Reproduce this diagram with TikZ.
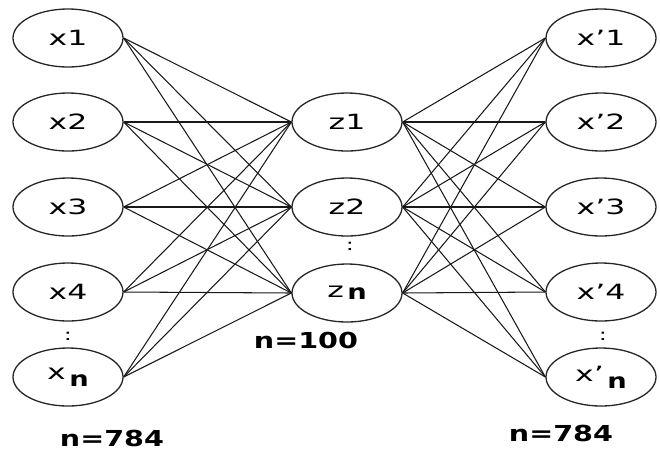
\documentclass[tikz,border=0pt]{standalone}
\usepackage{fontspec}
\setmainfont{DejaVu Sans}
\newfontfamily\wfont[FakeStretch=1.5]{DejaVu Sans}
\newfontfamily\bfont[FakeStretch=1.3]{DejaVu Sans Bold}
\usetikzlibrary{shapes.geometric}
\begin{document}
\begin{tikzpicture}[x=1pt,y=-1pt,
  neuron/.style={draw=black!85,line width=1.3pt,ellipse,minimum width=110pt,minimum height=58pt,inner sep=0pt,font=\wfont\fontsize{21}{21}\selectfont},
  lbl/.style={font=\bfont\fontsize{22}{22}\selectfont},
  dots/.style={font=\wfont\fontsize{16}{16}\selectfont},
  conn/.style={draw=black!90,line width=1.05pt}]
\useasboundingbox (0,0) rectangle (660,451);
% left layer
\node[neuron] (x1) at (68,38) {x1};
\node[neuron] (x2) at (68,122) {x2};
\node[neuron] (x3) at (68,207) {x3};
\node[neuron] (x4) at (68,292) {x4};
\node[neuron] (xn) at (68,377) {x\,\raisebox{-7pt}{\bfont n}};
% middle layer
\node[neuron] (z1) at (347,122) {z1};
\node[neuron] (z2) at (347,207) {z2};
\node[neuron] (zn) at (347,293) {z\,\raisebox{-2pt}{\bfont n}};
% right layer
\node[neuron] (y1) at (601,38) {x’1};
\node[neuron] (y2) at (601,122) {x’2};
\node[neuron] (y3) at (601,207) {x’3};
\node[neuron] (y4) at (601,292) {x’4};
\node[neuron] (yn) at (601,377) {x’\,\raisebox{-7pt}{\bfont n}};
% dots
\node[dots] (d1) at (68,336) {:};
\node[dots] (d2) at (350,246) {:};
\node[dots] (d3) at (603,336) {:};
% labels
\node[lbl] (l1) at (112,438) {n=784};
\node[lbl] (l2) at (306,340) {n=100};
\node[lbl] (l3) at (561,433) {n=784};
% connections
\foreach \a in {x1,x2,x3,x4,xn}
  \foreach \b in {z1,z2,zn}
    \draw[conn] (\a.east) -- (\b.west);
\foreach \a in {z1,z2,zn}
  \foreach \b in {y1,y2,y3,y4,yn}
    \draw[conn] (\a.east) -- (\b.west);
\end{tikzpicture}
\end{document}
